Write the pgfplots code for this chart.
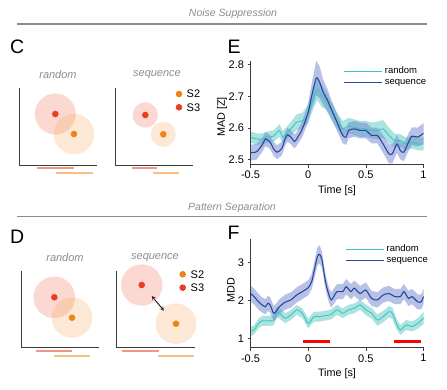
\documentclass[border=0pt]{standalone}
\usepackage{fontspec}
\setmainfont{Liberation Sans}
\usepackage{pgfplots}
\pgfplotsset{compat=1.18}
\usepackage{pgfplotstable}

\definecolor{cyanl}{RGB}{60,196,192}
\definecolor{cyanb}{RGB}{90,200,195}
\definecolor{blued}{RGB}{40,72,160}
\definecolor{blueb}{RGB}{112,132,204}
\definecolor{redd}{RGB}{232,64,28}
\definecolor{orad}{RGB}{238,132,20}
\definecolor{redc}{RGB}{240,110,80}
\definecolor{orac}{RGB}{245,165,90}
\definecolor{redbar}{RGB}{242,150,135}
\definecolor{orabar}{RGB}{250,190,130}
\definecolor{titgray}{RGB}{140,140,140}
\definecolor{axgray}{RGB}{60,60,60}

\pgfplotstableread{
t m e
-0.50 2.522 0.025
-0.45 2.524 0.025
-0.40 2.545 0.022
-0.37 2.565 0.022
-0.33 2.555 0.022
-0.30 2.534 0.022
-0.27 2.523 0.022
-0.23 2.534 0.022
-0.20 2.565 0.022
-0.18 2.578 0.022
-0.15 2.571 0.022
-0.12 2.557 0.022
-0.10 2.565 0.022
-0.05 2.597 0.025
0.00 2.649 0.030
0.03 2.700 0.040
0.07 2.758 0.055
0.10 2.744 0.050
0.13 2.713 0.040
0.17 2.686 0.035
0.20 2.660 0.030
0.25 2.618 0.028
0.30 2.576 0.025
0.33 2.571 0.025
0.35 2.592 0.025
0.40 2.597 0.025
0.45 2.592 0.025
0.50 2.592 0.025
0.55 2.576 0.025
0.60 2.576 0.025
0.65 2.549 0.028
0.70 2.518 0.030
0.73 2.518 0.030
0.77 2.549 0.028
0.80 2.528 0.028
0.83 2.523 0.028
0.87 2.555 0.028
0.90 2.574 0.028
0.95 2.571 0.030
1.00 2.583 0.032
}\Es

\pgfplotstableread{
t m e
-0.50 2.571 0.018
-0.45 2.565 0.018
-0.40 2.565 0.018
-0.35 2.571 0.018
-0.30 2.574 0.018
-0.25 2.592 0.020
-0.22 2.571 0.020
-0.18 2.586 0.020
-0.15 2.597 0.022
-0.10 2.618 0.025
-0.05 2.623 0.025
0.00 2.644 0.028
0.05 2.700 0.035
0.08 2.723 0.035
0.12 2.700 0.035
0.15 2.690 0.030
0.20 2.655 0.028
0.25 2.623 0.025
0.30 2.597 0.025
0.35 2.607 0.025
0.40 2.602 0.025
0.45 2.597 0.025
0.50 2.597 0.025
0.55 2.592 0.025
0.60 2.592 0.028
0.65 2.597 0.028
0.70 2.576 0.025
0.75 2.560 0.022
0.80 2.560 0.020
0.85 2.549 0.020
0.90 2.555 0.020
0.95 2.549 0.020
1.00 2.549 0.020
}\Er

\pgfplotstableread{
t m e
-0.50 2.18 0.21
-0.47 2.10 0.21
-0.43 1.96 0.21
-0.40 1.88 0.20
-0.37 1.83 0.20
-0.35 1.92 0.20
-0.33 1.88 0.20
-0.30 1.66 0.20
-0.28 1.70 0.20
-0.25 1.83 0.20
-0.20 1.95 0.20
-0.15 2.01 0.20
-0.10 2.14 0.20
-0.05 2.23 0.20
0.00 2.33 0.20
0.03 2.49 0.20
0.05 2.75 0.22
0.08 3.15 0.24
0.10 3.21 0.24
0.12 3.06 0.22
0.15 2.49 0.20
0.18 2.14 0.20
0.20 2.01 0.20
0.23 2.14 0.20
0.25 2.23 0.20
0.30 2.23 0.20
0.33 2.36 0.20
0.37 2.23 0.20
0.40 2.32 0.20
0.45 2.18 0.20
0.50 2.27 0.20
0.55 2.05 0.20
0.60 2.01 0.20
0.65 2.14 0.20
0.70 2.18 0.20
0.75 2.10 0.20
0.80 2.10 0.20
0.83 2.23 0.20
0.87 2.05 0.20
0.90 2.10 0.20
0.95 1.96 0.20
0.98 1.96 0.20
1.00 2.10 0.20
}\Fs

\pgfplotstableread{
t m e
-0.50 1.18 0.12
-0.47 1.22 0.12
-0.43 1.39 0.13
-0.40 1.46 0.13
-0.35 1.46 0.13
-0.30 1.48 0.14
-0.27 1.70 0.14
-0.25 1.66 0.14
-0.20 1.53 0.13
-0.15 1.61 0.13
-0.10 1.75 0.13
-0.05 1.66 0.13
0.00 1.39 0.13
0.05 1.57 0.13
0.10 1.57 0.13
0.15 1.60 0.13
0.20 1.63 0.13
0.25 1.75 0.13
0.30 1.66 0.13
0.35 1.75 0.13
0.40 1.79 0.13
0.45 1.88 0.13
0.50 1.75 0.14
0.55 1.66 0.14
0.60 1.48 0.15
0.65 1.57 0.15
0.70 1.70 0.15
0.73 1.66 0.15
0.77 1.35 0.14
0.80 1.22 0.13
0.85 1.35 0.13
0.90 1.31 0.13
0.95 1.39 0.14
1.00 1.53 0.16
}\Fr

\pgfplotsset{
  trace/.style={
    scale only axis, axis lines=left, axis line style={-, axgray, line width=0.8pt},
    tick align=outside, major tick length=3pt, tick style={axgray, line width=0.6pt},
    xmin=-0.5, xmax=1, xtick={-0.5,0,0.5,1}, xticklabels={-0.5,0,0.5,1},
    tick label style={font=\fontsize{11}{12}\selectfont},
    label style={font=\fontsize{10.8}{12}\selectfont},
    xlabel={Time [s]},
    legend style={draw=none, fill=none, font=\fontsize{9.5}{10}\selectfont},
    legend cell align=left,
    legend image code/.code={\draw[##1, line width=1.2pt] (0pt,0pt) -- (38pt,0pt);},
  },
  ovl/.style={scale only axis, hide axis, xmin=-0.5, xmax=1, stack plots=y},
  schem/.style={
    scale only axis, axis lines=left, axis line style={-, axgray, line width=0.9pt},
    xtick=\empty, ytick=\empty, clip=false,
  },
  bigc/.style={only marks, mark=*, mark size=#1pt},
  cfill/.style={mark options={draw opacity=0, line width=0pt, fill=#1, fill opacity=0.26}},
  dot/.style={only marks, mark=*, mark size=3.3pt, mark options={draw opacity=0, line width=0pt, fill=#1}},
}

\begin{document}
\begin{tikzpicture}[x=1pt,y=1pt]
\path[use as bounding box] (0,0) rectangle (447,-390);

% section headers
\node[font=\fontsize{10.5}{12}\selectfont\itshape, text=titgray] at (233,-14) {Noise Suppression};
\draw[titgray, line width=1.2pt] (17,-24) -- (427,-24);
\node[font=\fontsize{10.5}{12}\selectfont\itshape, text=titgray] at (232,-208) {Pattern Separation};
\draw[titgray, line width=1.2pt] (17,-216.7) -- (427,-216.7);

% panel letters
\node[font=\fontsize{19.5}{22}\selectfont, anchor=west, inner sep=0pt] at (10,-46.5) {C};
\node[font=\fontsize{19.5}{22}\selectfont, anchor=west, inner sep=0pt] at (227.5,-46.5) {E};
\node[font=\fontsize{19.5}{22}\selectfont, anchor=west, inner sep=0pt] at (10,-236.5) {D};
\node[font=\fontsize{19.5}{22}\selectfont, anchor=west, inner sep=0pt] at (227.5,-233) {F};

% schematic titles
\node[font=\fontsize{11}{12}\selectfont\itshape, text=titgray] at (58,-75) {random};
\node[font=\fontsize{11}{12}\selectfont\itshape, text=titgray] at (157,-75) {sequence};
\node[font=\fontsize{11}{12}\selectfont\itshape, text=titgray] at (65,-257.7) {random};
\node[font=\fontsize{11}{12}\selectfont\itshape, text=titgray] at (155,-257.7) {sequence};

% ---- C left
\begin{axis}[schem, at={(19.3pt,-165pt)}, anchor=south west, width=78pt, height=76.7pt,
  xmin=0, xmax=78, ymin=0, ymax=76.7]
\addplot[bigc=20.5, cfill=redc] coordinates {(36,51)};
\addplot[bigc=20.2, cfill=orac] coordinates {(54.7,31)};
\addplot[dot=redd] coordinates {(36,51)};
\addplot[dot=orad] coordinates {(54.7,31)};
\addplot[redbar, line width=2pt] coordinates {(18,-3.3) (54.7,-3.3)};
\addplot[orabar, line width=2pt] coordinates {(36.7,-8.3) (73.4,-8.3)};
\end{axis}

% ---- C right
\begin{axis}[schem, at={(115pt,-165pt)}, anchor=south west, width=78.3pt, height=76.7pt,
  xmin=0, xmax=78.3, ymin=0, ymax=76.7]
\addplot[bigc=12.7, cfill=redc] coordinates {(30.3,50)};
\addplot[bigc=12.5, cfill=orac] coordinates {(48.3,30.7)};
\addplot[dot=redd] coordinates {(30.3,50)};
\addplot[dot=orad] coordinates {(48.3,30.7)};
\addplot[dot=orad] coordinates {(64,71)};
\addplot[dot=redd] coordinates {(64,57.7)};
\addplot[redbar, line width=2pt] coordinates {(16.7,-3.3) (41.7,-3.3)};
\addplot[orabar, line width=2pt] coordinates {(37.7,-8.3) (63.7,-8.3)};
\end{axis}
\node[font=\fontsize{11}{12}\selectfont, anchor=west, inner sep=0pt] at (186.5,-94) {S2};
\node[font=\fontsize{11}{12}\selectfont, anchor=west, inner sep=0pt] at (186.5,-107.3) {S3};

% ---- D left
\begin{axis}[schem, at={(21.7pt,-347.7pt)}, anchor=south west, width=77.3pt, height=76.7pt,
  xmin=0, xmax=77.3, ymin=0, ymax=76.7]
\addplot[bigc=20.8, cfill=redc] coordinates {(32.6,50.4)};
\addplot[bigc=20.3, cfill=orac] coordinates {(50.3,30)};
\addplot[dot=redd] coordinates {(32.6,50.4)};
\addplot[dot=orad] coordinates {(50.3,30)};
\addplot[redbar, line width=2pt] coordinates {(14,-3) (50,-3)};
\addplot[orabar, line width=2pt] coordinates {(32.3,-8) (68.6,-8)};
\end{axis}

% ---- D right
\begin{axis}[schem, at={(116.7pt,-347.7pt)}, anchor=south west, width=78pt, height=76.7pt,
  xmin=0, xmax=78, ymin=0, ymax=76.7]
\addplot[bigc=20.7, cfill=redc] coordinates {(25,62.7)};
\addplot[bigc=20.3, cfill=orac] coordinates {(59.3,24)};
\addplot[dot=redd] coordinates {(25,62.7)};
\addplot[dot=orad] coordinates {(59.3,24)};
\addplot[black, line width=0.8pt, <->, >=stealth] coordinates {(35,51.7) (47.3,37)};
\addplot[dot=orad] coordinates {(66,73.4)};
\addplot[dot=redd] coordinates {(66,60)};
\addplot[redbar, line width=2pt] coordinates {(5.6,-3) (42,-3)};
\addplot[orabar, line width=2pt] coordinates {(41,-8) (77.3,-8)};
\end{axis}
\node[font=\fontsize{11}{12}\selectfont, anchor=west, inner sep=0pt] at (190.5,-274.3) {S2};
\node[font=\fontsize{11}{12}\selectfont, anchor=west, inner sep=0pt] at (190.5,-287.7) {S3};

% ---- E bands
\begin{axis}[ovl, at={(250.5pt,-164.7pt)}, anchor=south west, width=173pt, height=103.4pt,
  ymin=2.4835, ymax=2.811]
\addplot[draw=none] table[x=t, y expr=\thisrow{m}-\thisrow{e}] {\Er};
\addplot[fill=cyanb, fill opacity=0.5, draw=none] table[x=t, y expr=2*\thisrow{e}] {\Er} \closedcycle;
\end{axis}
\begin{axis}[ovl, at={(250.5pt,-164.7pt)}, anchor=south west, width=173pt, height=103.4pt,
  ymin=2.4835, ymax=2.811]
\addplot[draw=none] table[x=t, y expr=\thisrow{m}-\thisrow{e}] {\Es};
\addplot[fill=blueb, fill opacity=0.5, draw=none] table[x=t, y expr=2*\thisrow{e}] {\Es} \closedcycle;
\end{axis}
% ---- E
\begin{axis}[trace, at={(250.5pt,-164.7pt)}, anchor=south west, width=173pt, height=103.4pt,
  ymin=2.4835, ymax=2.811, ytick={2.5,2.6,2.7,2.8}, yticklabels={2.5,2.6,2.7,2.8},
  ylabel={MAD [Z]}, ylabel style={at={(axis description cs:-0.165,0.46)}, anchor=center},
  legend style={at={(0.52,0.985)}, anchor=north west}]
\addplot[cyanl, line width=0.9pt, smooth, tension=0.4] table[x=t, y=m] {\Er};
\addplot[blued, line width=1.1pt, smooth, tension=0.4] table[x=t, y=m] {\Es};
\legend{random, sequence}
\end{axis}

% ---- F bands
\begin{axis}[ovl, at={(250.5pt,-347.8pt)}, anchor=south west, width=173pt, height=108.6pt,
  ymin=0.75, ymax=3.61]
\addplot[draw=none] table[x=t, y expr=\thisrow{m}-\thisrow{e}] {\Fr};
\addplot[fill=cyanb, fill opacity=0.5, draw=none] table[x=t, y expr=2*\thisrow{e}] {\Fr} \closedcycle;
\end{axis}
\begin{axis}[ovl, at={(250.5pt,-347.8pt)}, anchor=south west, width=173pt, height=108.6pt,
  ymin=0.75, ymax=3.61]
\addplot[draw=none] table[x=t, y expr=\thisrow{m}-\thisrow{e}] {\Fs};
\addplot[fill=blueb, fill opacity=0.5, draw=none] table[x=t, y expr=2*\thisrow{e}] {\Fs} \closedcycle;
\end{axis}
% ---- F
\begin{axis}[trace, at={(250.5pt,-347.8pt)}, anchor=south west, width=173pt, height=108.6pt,
  ymin=0.75, ymax=3.61, ytick={1,2,3}, yticklabels={1,2,3},
  ylabel={MDD}, ylabel style={at={(axis description cs:-0.113,0.53)}, anchor=center}, clip=false,
  legend style={at={(0.53,0.985)}, anchor=north west}]
\addplot[red, line width=3pt, forget plot] coordinates {(-0.046,0.91) (0.19,0.91)};
\addplot[red, line width=3pt, forget plot] coordinates {(0.74,0.91) (0.98,0.91)};
\addplot[cyanl, line width=0.9pt, smooth, tension=0.4] table[x=t, y=m] {\Fr};
\addplot[blued, line width=1.1pt, smooth, tension=0.4] table[x=t, y=m] {\Fs};
\legend{random, sequence}
\end{axis}
\end{tikzpicture}
\end{document}
